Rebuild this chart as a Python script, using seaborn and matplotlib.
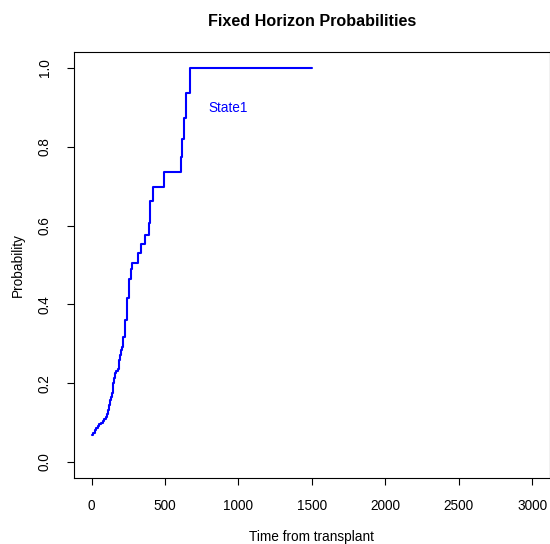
import matplotlib
matplotlib.use("Agg")
import matplotlib.pyplot as plt
import seaborn as sns
import pandas as pd

# Cumulative probability of State1 by time from transplant (step function)
times = [0, 10, 20, 30, 42, 52, 63, 75, 86, 97, 105, 114, 120, 127, 133, 138,
         143, 148, 154, 159, 168, 177, 184, 193, 200, 207, 213, 225, 241, 252,
         266, 277, 313, 334, 366, 389, 395, 418, 491, 606, 613, 629, 645, 668,
         1500]
probs = [0.068, 0.074, 0.081, 0.087, 0.092, 0.096, 0.100, 0.104, 0.110, 0.115,
         0.122, 0.132, 0.145, 0.157, 0.166, 0.174, 0.188, 0.200, 0.214, 0.225,
         0.230, 0.236, 0.259, 0.272, 0.285, 0.293, 0.318, 0.360, 0.416, 0.464,
         0.489, 0.506, 0.531, 0.553, 0.576, 0.606, 0.663, 0.699, 0.737, 0.775,
         0.820, 0.872, 0.936, 1.0, 1.0]
x_ticks = [0, 500, 1000, 1500, 2000, 2500, 3000]
y_ticks = [0.0, 0.2, 0.4, 0.6, 0.8, 1.0]
state_label = "State1"

df = pd.DataFrame({"time": times, "prob": probs})

sns.set_theme(style="ticks")
plt.rcParams["font.family"] = ["Liberation Sans", "DejaVu Sans"]
plt.rcParams["text.color"] = "black"
plt.rcParams["axes.labelcolor"] = "black"

fig = plt.figure(figsize=(5.5, 5.44), dpi=100)
ax = fig.add_axes([0.1345, 0.1217, 0.865, 0.7823])

sns.lineplot(data=df, x="time", y="prob", ax=ax, color="blue", lw=1.5,
             drawstyle="steps-post", estimator=None, sort=False)

ax.text(927, 0.898, state_label, color="blue", fontsize=9.8,
        ha="center", va="center")

ax.set_xlim(-120, 3120)
ax.set_ylim(-0.04, 1.04)
ax.set_xticks(x_ticks)
ax.set_xticklabels([str(v) for v in x_ticks])
ax.set_yticks(y_ticks)
ax.set_yticklabels([f"{v:.1f}" for v in y_ticks], rotation=90, va="center")

for side in ["left", "right", "top", "bottom"]:
    ax.spines[side].set_visible(True)
    ax.spines[side].set_color("black")
    ax.spines[side].set_linewidth(0.8)

ax.tick_params(axis="both", direction="out", length=5, width=0.8,
               colors="black", labelcolor="black", labelsize=9.8)
ax.tick_params(axis="x", pad=10)
ax.tick_params(axis="y", pad=11)

ax.set_xlabel("Time from transplant", fontsize=9.8, va="center", color="black")
ax.set_ylabel("Probability", fontsize=9.8, va="center", color="black")
ax.xaxis.set_label_coords(0.5, -0.139)
ax.yaxis.set_label_coords(-0.118, 0.5)
ax.set_title("Fixed Horizon Probabilities", fontsize=11.6, fontweight="bold",
             pad=19, color="black")

fig.savefig("out.png", dpi=100)
